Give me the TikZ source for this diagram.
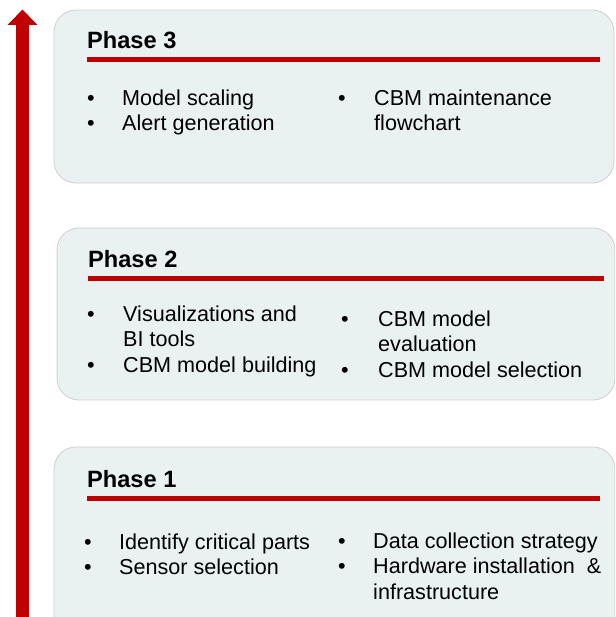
\documentclass[tikz,border=0pt]{standalone}
\usepackage{fontspec}
\setmainfont{Liberation Sans}
\usetikzlibrary{arrows.meta}
\definecolor{boxfill}{HTML}{E9F1F1}
\definecolor{boxline}{HTML}{CFCFCF}
\definecolor{phred}{HTML}{C00000}
\begin{document}
\begin{tikzpicture}[x=1pt,y=-1pt,
  phasebox/.style={draw=boxline,fill=boxfill,line width=0.8pt,rounded corners=22pt},
  phasetitle/.style={anchor=base west,inner sep=0pt,font=\fontsize{23.6}{27}\selectfont\bfseries},
  item/.style={anchor=base west,inner sep=0pt,font=\fontsize{21.6}{25}\selectfont},
  dot/.style={anchor=base west,inner sep=0pt,font=\fontsize{21.6}{25}\selectfont},
  redrule/.style={draw=phred,line width=5pt}]
\useasboundingbox (0,0) rectangle (615,617);
\clip (0,0) rectangle (615,617);
% boxes
\draw[phasebox] (54,10) rectangle (614,183);
\draw[phasebox] (57,228) rectangle (615,400);
\draw[phasebox] (54,447) rectangle (615,645);
% arrow
\coordinate (abot) at (22.5,640);
\coordinate (atop) at (22.5,9.5);
\draw[phred,line width=13.5pt,-{Triangle[width=29pt,length=15.5pt]}] (abot) -- (atop);
% Phase 3
\node[phasetitle] (t3) at (87,49) {Phase 3};
\coordinate (r3a) at (87,60); \coordinate (r3b) at (600,60);
\draw[redrule] (r3a) -- (r3b);
\node[dot] (b3a) at (87,106) {•};
\node[item] (i3a) at (122,106) {Model scaling};
\node[dot] (b3b) at (87,131) {•};
\node[item] (i3b) at (122,131) {Alert generation};
\node[dot] (b3c) at (338,106) {•};
\node[item] (i3c) at (374,106) {CBM maintenance};
\node[item] (i3d) at (374,131) {flowchart};
% Phase 2
\node[phasetitle] (t2) at (88,267) {Phase 2};
\coordinate (r2a) at (88,278); \coordinate (r2b) at (604,278);
\draw[redrule] (r2a) -- (r2b);
\node[dot] (b2a) at (87,321) {•};
\node[item] (i2a) at (123,321) {Visualizations and};
\node[item] (i2b) at (123,346) {BI tools};
\node[dot] (b2b) at (87,372) {•};
\node[item] (i2c) at (123,372) {CBM model building};
\node[dot] (b2c) at (341,326) {•};
\node[item] (i2d) at (378,326) {CBM model};
\node[item] (i2e) at (378,351) {evaluation};
\node[dot] (b2d) at (341,377) {•};
\node[item] (i2f) at (378,377) {CBM model selection};
% Phase 1
\node[phasetitle] (t1) at (87,487) {Phase 1};
\coordinate (r1a) at (87,498); \coordinate (r1b) at (600,498);
\draw[redrule] (r1a) -- (r1b);
\node[dot] (b1a) at (84,549) {•};
\node[item] (i1a) at (119,549) {Identify critical parts};
\node[dot] (b1b) at (84,574) {•};
\node[item] (i1b) at (119,574) {Sensor selection};
\node[dot] (b1c) at (338,548) {•};
\node[item] (i1c) at (373,548) {Data collection strategy};
\node[dot] (b1d) at (338,573) {•};
\node[item] (i1d) at (373,573) {Hardware installation\ \ \&};
\node[item] (i1e) at (373,599) {infrastructure};
\end{tikzpicture}
\end{document}
